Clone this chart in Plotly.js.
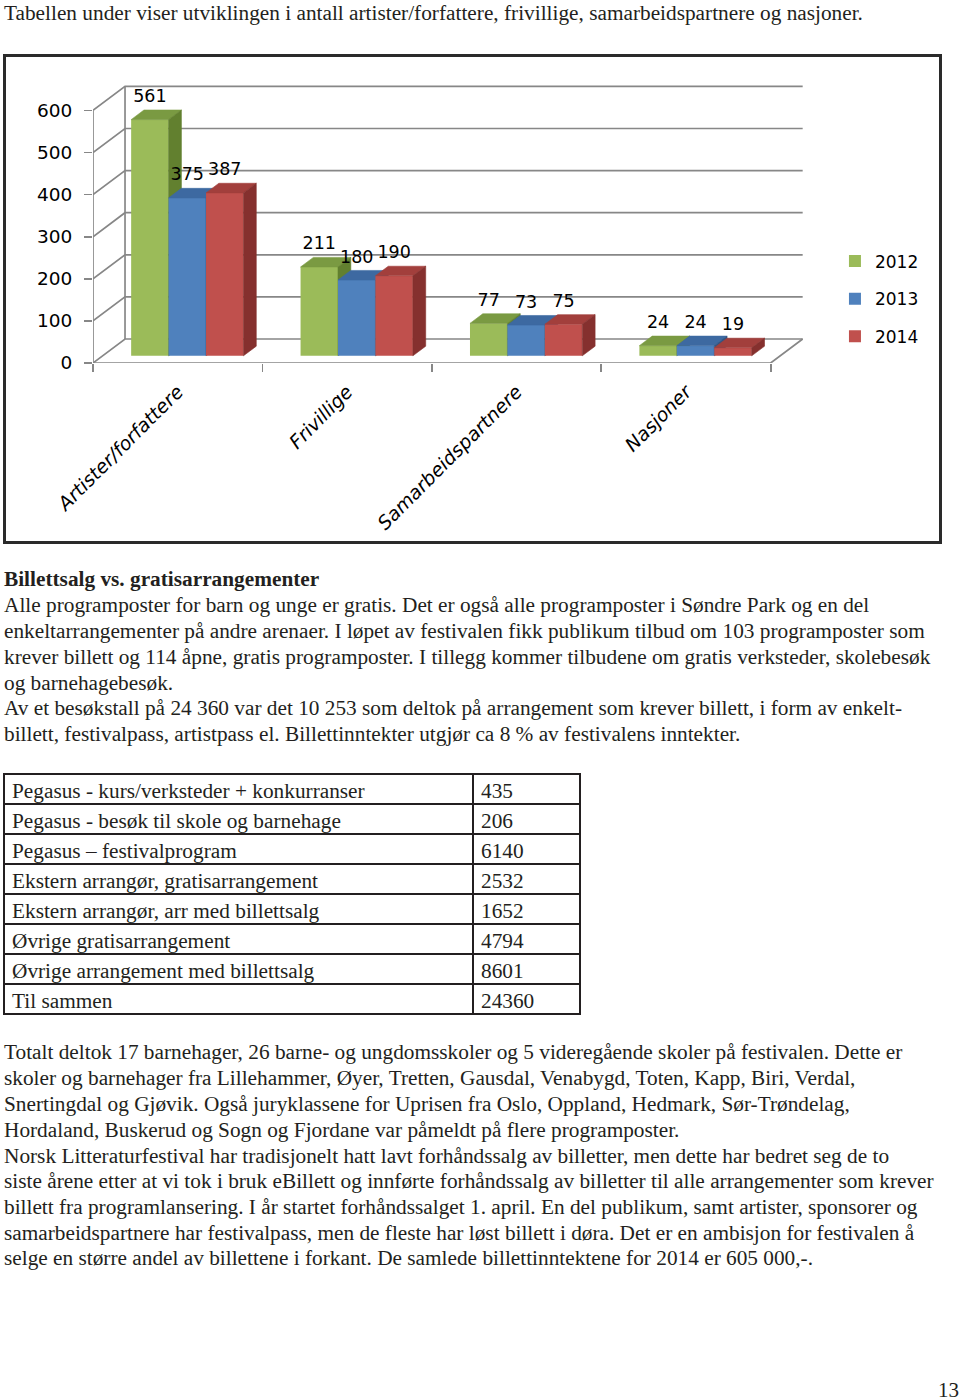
<!DOCTYPE html>
<html><head><meta charset="utf-8">
<script src="https://cdn.plot.ly/plotly-3.0.1.min.js"></script>
<style>
html,body{margin:0;padding:0;background:#fff;}
body{width:960px;height:1400px;position:relative;overflow:hidden;font-family:"Liberation Serif",serif;color:#231f20;}
.ln{position:absolute;left:4px;white-space:nowrap;font-size:21.3px;line-height:26px;height:26px;}
.b{font-weight:bold;}
#chart{position:absolute;left:3px;top:54px;width:939px;height:490px;border:3px solid #2a2a2a;box-sizing:border-box;}
#table{position:absolute;left:2px;top:772px;width:580px;height:246px;}
#pg{position:absolute;left:938px;top:1377px;font-size:21px;line-height:26px;}
</style></head>
<body>
<div class="ln" style="top:0px">Tabellen under viser utviklingen i antall artister/forfattere, frivillige, samarbeidspartnere og nasjoner.</div>
<div id="chart"></div>
<div class="ln b" style="top:566px">Billettsalg vs. gratisarrangementer</div>
<div class="ln" style="top:592px">Alle programposter for barn og unge er gratis. Det er også alle programposter i Søndre Park og en del</div>
<div class="ln" style="top:618px">enkeltarrangementer på andre arenaer. I løpet av festivalen fikk publikum tilbud om 103 programposter som</div>
<div class="ln" style="top:644px">krever billett og 114 åpne, gratis programposter. I tillegg kommer tilbudene om gratis verksteder, skolebesøk</div>
<div class="ln" style="top:670px">og barnehagebesøk.</div>
<div class="ln" style="top:695px">Av et besøkstall på 24 360 var det 10 253 som deltok på arrangement som krever billett, i form av enkelt-</div>
<div class="ln" style="top:721px">billett, festivalpass, artistpass el. Billettinntekter utgjør ca 8 % av festivalens inntekter.</div>
<div id="table"></div>
<div class="ln" style="top:1039px">Totalt deltok 17 barnehager, 26 barne- og ungdomsskoler og 5 videregående skoler på festivalen. Dette er</div>
<div class="ln" style="top:1065px">skoler og barnehager fra Lillehammer, Øyer, Tretten, Gausdal, Venabygd, Toten, Kapp, Biri, Verdal,</div>
<div class="ln" style="top:1091px">Snertingdal og Gjøvik. Også juryklassene for Uprisen fra Oslo, Oppland, Hedmark, Sør-Trøndelag,</div>
<div class="ln" style="top:1117px">Hordaland, Buskerud og Sogn og Fjordane var påmeldt på flere programposter.</div>
<div class="ln" style="top:1143px">Norsk Litteraturfestival har tradisjonelt hatt lavt forhåndssalg av billetter, men dette har bedret seg de to</div>
<div class="ln" style="top:1168px">siste årene etter at vi tok i bruk eBillett og innførte forhåndssalg av billetter til alle arrangementer som krever</div>
<div class="ln" style="top:1194px">billett fra programlansering. I år startet forhåndssalget 1. april. En del publikum, samt artister, sponsorer og</div>
<div class="ln" style="top:1220px">samarbeidspartnere har festivalpass, men de fleste har løst billett i døra. Det er en ambisjon for festivalen å</div>
<div class="ln" style="top:1245px">selge en større andel av billettene i forkant. De samlede billettinntektene for 2014 er 605 000,-.</div>
<div id="pg">13</div>
<script>
// ---------- chart data ----------
const categories = ['Artister/forfattere', 'Frivillige', 'Samarbeidspartnere', 'Nasjoner'];
const years = ['2012', '2013', '2014'];
const v2012 = [561, 211, 77, 24];
const v2013 = [375, 180, 73, 24];
const v2014 = [387, 190, 75, 19];
const yTicks = [0, 100, 200, 300, 400, 500, 600];

// ---------- table data ----------
const tableLabels = [
  'Pegasus - kurs/verksteder + konkurranser',
  'Pegasus - besøk til skole og barnehage',
  'Pegasus – festivalprogram',
  'Ekstern arrangør, gratisarrangement',
  'Ekstern arrangør, arr med billettsalg',
  'Øvrige gratisarrangement',
  'Øvrige arrangement med billettsalg',
  'Til sammen'
];
const tableValues = [435, 206, 6140, 2532, 1652, 4794, 8601, 24360];

// ---------- styling / geometry ----------
const series = [v2012, v2013, v2014];
const frontColors = ['#9BBB59', '#4F81BD', '#C0504D'];
const topColors = ['#7A9A42', '#3D69A1', '#A23F3C'];
const sideColors = ['#62802F', '#2F5483', '#85302E'];
const DX = 0.189, DY = 57;      // depth of the 3D floor in axis units
const F1 = 0.3, F2 = 0.7;       // bar front / back depth fractions
const BW = 0.221;               // bar width in category units
const LABEL_GAP = 52;           // label offset above bar front top
const XR = [-0.5, 3.75], YR = [0, 715];
const gridColor = '#878787';

const idx = categories.map((c, i) => i);
const lo = -0.5, hi = categories.length - 0.5;
const yMax = yTicks[yTicks.length - 1];
const traces = [];

// walls, gridlines and floor
const gx = [], gy = [];
yTicks.forEach(t => { gx.push(lo, lo + DX, hi + DX, null); gy.push(t, t + DY, t + DY, null); });
gx.push(lo + DX, lo + DX, null); gy.push(DY, yMax + DY, null);
gx.push(lo, lo, null); gy.push(0, yMax, null);
gx.push(lo, hi, hi + DX); gy.push(0, 0, DY);
traces.push({type: 'scatter', mode: 'lines', x: gx, y: gy, xaxis: 'x', yaxis: 'y',
  line: {color: gridColor, width: 1.7}, connectgaps: false, hoverinfo: 'skip', showlegend: false});

function face(xs, ys, color, xa) {
  return {type: 'scatter', mode: 'lines', x: xs.concat([xs[0]]), y: ys.concat([ys[0]]),
    fill: 'toself', fillcolor: color, line: {color: color, width: 0.6},
    xaxis: xa, yaxis: 'y', hoverinfo: 'skip', showlegend: false};
}

series.forEach((vals, s) => {
  const xa = 'x' + (s + 2);
  const off = -1.5 * BW + s * BW + F1 * DX;
  const base = F1 * DY;
  const bdx = (F2 - F1) * DX, bdy = (F2 - F1) * DY;
  traces.push({type: 'bar', name: years[s], legendgroup: years[s], x: idx, y: vals,
    base: base, offset: off, width: BW, xaxis: xa, yaxis: 'y',
    marker: {color: frontColors[s], line: {width: 0}}, hoverinfo: 'skip'});
  vals.forEach((v, i) => {
    const x0 = i + off, x1 = x0 + BW, yb = base, yt = base + v;
    traces.push(face([x0, x1, x1 + bdx, x0 + bdx], [yt, yt, yt + bdy, yt + bdy], topColors[s], xa));
    traces.push(face([x1, x1 + bdx, x1 + bdx, x1], [yb, yb + bdy, yt + bdy, yt], sideColors[s], xa));
  });
  traces.push({type: 'scatter', mode: 'text', x: idx.map(i => i + off + BW / 2),
    y: vals.map(v => v + base + LABEL_GAP), text: vals.map(String), textposition: 'middle center',
    textfont: {family: 'DejaVu Sans', size: 17.5, color: '#000'}, cliponaxis: false,
    xaxis: xa, yaxis: 'y', hoverinfo: 'skip', showlegend: false});
});

const hidden = () => ({overlaying: 'x', anchor: 'y', range: XR, visible: false, fixedrange: true});
const layout = {
  width: 933, height: 484,
  margin: {l: 87, r: 125.6, t: 4.5, b: 178, pad: 0},
  paper_bgcolor: '#fff', plot_bgcolor: 'rgba(0,0,0,0)',
  barmode: 'overlay', showlegend: true,
  xaxis: {range: XR, tickvals: [lo, 0.5, 1.5, 2.5, hi], ticks: 'outside', ticklen: 8,
    tickcolor: gridColor, tickwidth: 1.7, showticklabels: false, showgrid: false,
    zeroline: false, showline: false, fixedrange: true},
  yaxis: {range: YR, tickvals: yTicks, ticks: 'outside', ticklen: 8, tickcolor: gridColor,
    tickwidth: 1.7, tickfont: {family: 'DejaVu Sans', size: 18.5, color: '#000'},
    showgrid: false, zeroline: false, showline: false, fixedrange: true, ticklabelstandoff: 8},
  xaxis2: {overlaying: 'x', anchor: 'y', range: XR, tickvals: idx, ticktext: categories,
    tickangle: -45, ticks: '', showgrid: false, zeroline: false, showline: false, fixedrange: true,
    tickfont: {family: 'DejaVu Sans', size: 19, style: 'italic', color: '#000'},
    ticklabelstandoff: 13},
  xaxis3: hidden(),
  xaxis4: hidden(),
  legend: {x: 1.0305, xanchor: 'left', y: 0.397, yanchor: 'top', traceorder: 'grouped',
    tracegroupgap: 12.5, bgcolor: 'rgba(0,0,0,0)',
    font: {family: 'DejaVu Sans', size: 17, color: '#000'}}
};
Plotly.newPlot('chart', traces, layout, {staticPlot: true, displayModeBar: false});

// ---------- table ----------
const tblFont = {family: 'Liberation Serif', size: 21.3, color: '#231f20'};
const tblLine = {color: '#231f20', width: 1.5};
Plotly.newPlot('table', [{
  type: 'table',
  columnwidth: [469, 107],
  header: {values: [[tableLabels[0]], [String(tableValues[0])]], align: 'left', height: 30,
    font: tblFont, line: tblLine, fill: {color: '#fff'}},
  cells: {values: [tableLabels.slice(1), tableValues.slice(1).map(String)], align: 'left', height: 30,
    font: tblFont, line: tblLine, fill: {color: '#fff'}}
}], {width: 580, height: 246, margin: {l: 2, r: 2, t: 2, b: 2}, paper_bgcolor: '#fff'},
{staticPlot: true, displayModeBar: false});
</script>
</body></html>
